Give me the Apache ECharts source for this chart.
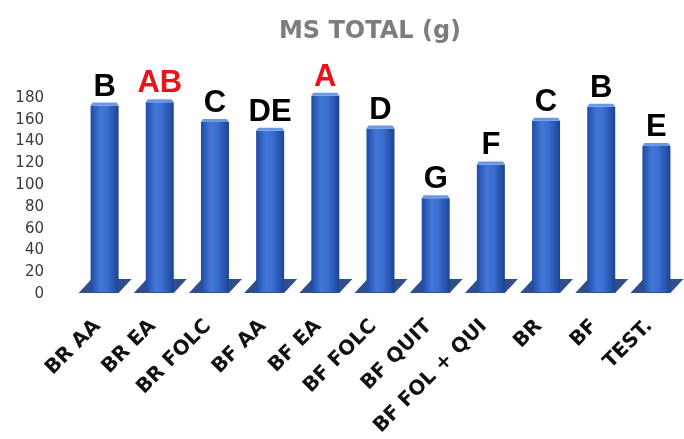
<!DOCTYPE html>
<html>
<head>
<meta charset="utf-8">
<script src="https://cdn.jsdelivr.net/npm/echarts@6/dist/echarts.min.js"></script>
<style>
  html, body { margin: 0; padding: 0; background: #ffffff; }
  #chart { width: 684px; height: 439px; }
</style>
</head>
<body>
<div id="chart"></div>
<script>
// Treatments along the x axis
const treatments = ['BR AA', 'BR EA', 'BR FOLC', 'BF AA', 'BF EA', 'BF FOLC',
                    'BF QUIT', 'BF FOL + QUI', 'BR', 'BF', 'TEST.'];
// Total dry matter per treatment (g)
const msTotal = [173, 176, 158, 150, 182, 152, 88, 119, 159, 172, 136];
// Mean-separation letters shown above each column
const groups = ['B', 'AB', 'C', 'DE', 'A', 'D', 'G', 'F', 'C', 'B', 'E'];
// Value axis ticks
const yTicks = [0, 20, 40, 60, 80, 100, 120, 140, 160, 180];

const chart = echarts.init(document.getElementById('chart'));

// Columns drawn as simple prisms: floor shadow, front face, top face and group letter
function renderColumn(params, api) {
  const idx = api.value(0);
  const val = api.value(1);
  const top = api.coord([idx, val]);
  const base = api.coord([idx, 0]);
  const w = 28;
  const xl = top[0] - w / 2;
  const xr = top[0] + w / 2;
  const yb = base[1] - 2;
  const yt = top[1];
  const d = 13;
  const letter = groups[idx];
  const isTop = letter.indexOf('A') >= 0;
  return {
    type: 'group',
    children: [
      {
        type: 'polygon',
        shape: { points: [[xl - 12, yb + 1], [xr, yb + 1], [xr + d, yb - d], [xl + 1, yb - d]] },
        style: { fill: '#1b3b80', opacity: 0.9 }
      },
      {
        type: 'rect',
        shape: { x: xl, y: yt, width: w, height: yb - yt },
        style: {
          fill: new echarts.graphic.LinearGradient(0, 0, 1, 0, [
            { offset: 0, color: '#1f4ba3' },
            { offset: 0.35, color: '#4277d8' },
            { offset: 0.6, color: '#3a6dd0' },
            { offset: 1, color: '#1c4494' }
          ])
        }
      },
      {
        type: 'polygon',
        shape: { points: [[xl, yt], [xr, yt], [xr - 2, yt - 3], [xl + 2, yt - 3]] },
        style: { fill: '#6b97e8' }
      },
      {
        type: 'text',
        style: {
          text: letter,
          x: top[0],
          y: yt - 3,
          textAlign: 'center',
          textVerticalAlign: 'bottom',
          fill: isTop ? '#e8141b' : '#000000',
          font: 'bold 31px "Liberation Sans", Arial, sans-serif'
        }
      }
    ]
  };
}

chart.setOption({
  animation: false,
  backgroundColor: '#ffffff',
  title: {
    text: 'MS TOTAL (g)',
    left: 365,
    top: 15,
    textAlign: 'center',
    textStyle: {
      color: '#7d7d7d',
      fontFamily: 'DejaVu Sans',
      fontWeight: 'bold',
      fontSize: 24
    }
  },
  grid: { left: 77, right: -12, top: 98, bottom: 145 },
  xAxis: {
    type: 'category',
    data: treatments,
    axisLine: { show: false },
    axisTick: { show: false },
    axisLabel: {
      interval: 0,
      rotate: 45,
      margin: 22,
      formatter: (v) => '{t|' + v + '}',
      rich: {
        t: {
          color: '#111111',
          fontFamily: 'DejaVu Sans',
          fontWeight: 'bold',
          fontSize: 20,
          padding: [0, 10, 0, 0]
        }
      }
    }
  },
  yAxis: {
    type: 'value',
    min: yTicks[0],
    max: yTicks[yTicks.length - 1],
    interval: yTicks[1] - yTicks[0],
    splitLine: { show: false },
    axisLine: { show: false },
    axisTick: { show: false },
    axisLabel: {
      margin: 33,
      color: '#3a3a3a',
      fontFamily: 'DejaVu Sans',
      fontSize: 15
    }
  },
  series: [{
    type: 'custom',
    clip: false,
    renderItem: renderColumn,
    data: msTotal.map((v, i) => [i, v])
  }]
});
</script>
</body>
</html>
